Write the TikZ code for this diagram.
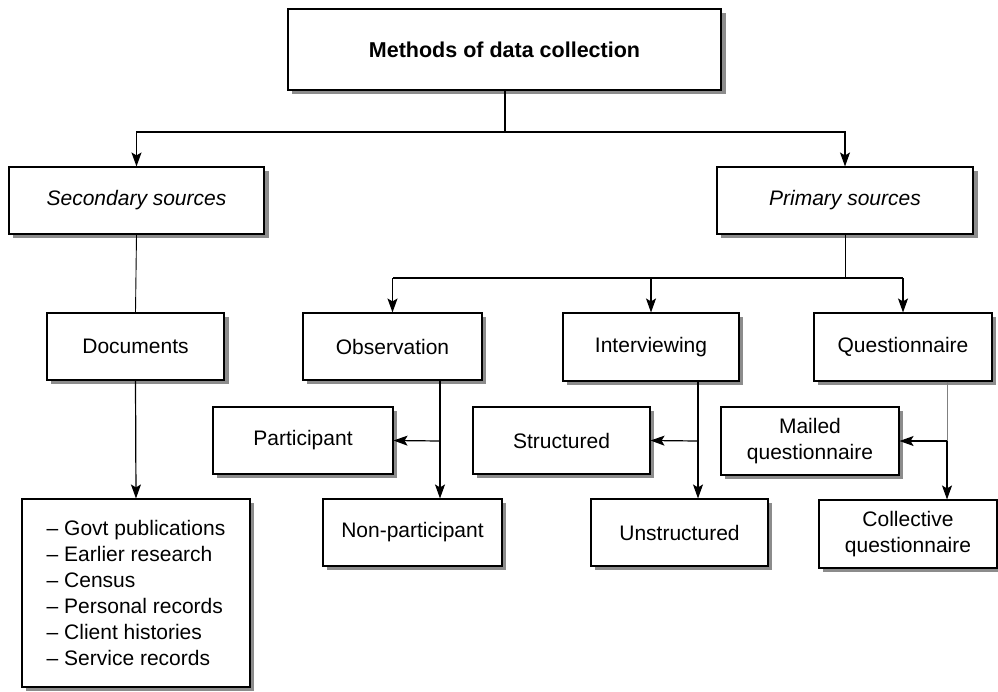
\documentclass[tikz,border=0pt]{standalone}
\usepackage{fontspec}
\setmainfont{Liberation Sans}
\usetikzlibrary{arrows.meta}
\begin{document}
\begin{tikzpicture}[x=1pt,y=-1pt,
  box/.style={draw=black,line width=1.1pt,fill=white,inner sep=0pt,align=center,
    font=\fontsize{21}{25}\selectfont},
  shadowfill/.style={fill=black!45},
  conn/.style={line width=1.2pt,black},
  thin/.style={line width=0.9pt,black},
  arr/.style={conn,-{Stealth[length=14pt,width=10pt,inset=3pt]}}]
\useasboundingbox (0,0) rectangle (998,691);
% shadows first (drawn behind the boxes)
\fill[shadowfill] (292,13) rectangle (725.5,94);
\fill[shadowfill] (13,171) rectangle (268.5,238);
\fill[shadowfill] (721,171) rectangle (977.5,238);
\fill[shadowfill] (51,317) rectangle (228.5,384);
\fill[shadowfill] (307,317) rectangle (486,384);
\fill[shadowfill] (567,317) rectangle (743,385);
\fill[shadowfill] (818,317) rectangle (996,385);
\fill[shadowfill] (217,411) rectangle (397,478);
\fill[shadowfill] (477,411) rectangle (654,478);
\fill[shadowfill] (725,411) rectangle (903,479);
\fill[shadowfill] (327,503) rectangle (506,570);
\fill[shadowfill] (595,503) rectangle (772,570);
\fill[shadowfill] (823,504) rectangle (1001,572);
\fill[shadowfill] (26,503) rectangle (254,691);
\node[box,minimum width=433,minimum height=81,font=\fontsize{21.5}{25}\selectfont\bfseries] (top) at (504.5,49.5) {Methods of data collection};
\node[box,minimum width=255,minimum height=67,font=\fontsize{21}{25}\selectfont\itshape] (sec) at (136.5,200.5) {Secondary sources};
\node[box,minimum width=256,minimum height=67,font=\fontsize{21}{25}\selectfont\itshape] (prim) at (845,200.5) {Primary sources};
\node[box,minimum width=177,minimum height=67] (doc) at (135.5,346.5) {Documents};
\node[box,minimum width=179,minimum height=67] (obs) at (392.5,346.5) {Observation};
\node[box,minimum width=176,minimum height=68] (int) at (651,347) {Interviewing};
\node[box,minimum width=178,minimum height=68] (que) at (903,347) {Questionnaire};
\node[box,minimum width=180,minimum height=67] (par) at (303,440.5) {Participant};
\node[box,minimum width=177,minimum height=67] (str) at (561.5,440.5) {Structured};
\node[box,minimum width=178,minimum height=68,font=\fontsize{21}{26}\selectfont] (mai) at (810,441) {Mailed\\questionnaire};
\node[box,minimum width=179,minimum height=67] (non) at (412.5,532.5) {Non-participant};
\node[box,minimum width=177,minimum height=67] (uns) at (679.5,532.5) {Unstructured};
\node[box,minimum width=178,minimum height=68,font=\fontsize{21}{26}\selectfont] (col) at (908,534) {Collective\\questionnaire};
\node[box,minimum width=228,minimum height=188,align=left,font=\fontsize{21}{26}\selectfont] (list) at (136,593)
  {– Govt publications\\– Earlier research\\– Census\\– Personal records\\– Client histories\\– Service records};
% top level
\coordinate (j1) at (505,132);
\draw[conn] (top.south -| j1) -- (j1);
\draw[arr] (j1) -| (sec.north);
\draw[arr] (j1) -| (prim.north);
% secondary
\draw[thin] (sec.south) -- (doc.north);
\draw[arr] (doc.south) -- (list.north);
% primary
\coordinate (j2) at (845,278);
\draw[thin] (prim.south) -- (j2);
\draw[conn] (j2) -- (j2 -| obs.north);
\draw[conn] (j2) -- (j2 -| que.north);
\draw[arr] (j2 -| obs.north) -- (obs.north);
\draw[arr] (j2 -| int.north) -- (int.north);
\draw[arr] (j2 -| que.north) -- (que.north);
% observation
\coordinate (ob) at (440,441);
\draw[arr] (obs.south -| ob) -- (ob |- non.north);
\draw[arr] (ob) -- (par.east);
% interviewing
\coordinate (ib) at (698,441);
\draw[arr] (int.south -| ib) -- (ib |- uns.north);
\draw[arr] (ib) -- (str.east);
% questionnaire
\coordinate (qb) at (947,441);
\draw[line width=0.8pt,gray] (que.south -| qb) -- (qb);
\draw[arr] (qb) -- (qb |- col.north);
\draw[arr] (qb) -- (mai.east);
\end{tikzpicture}
\end{document}
